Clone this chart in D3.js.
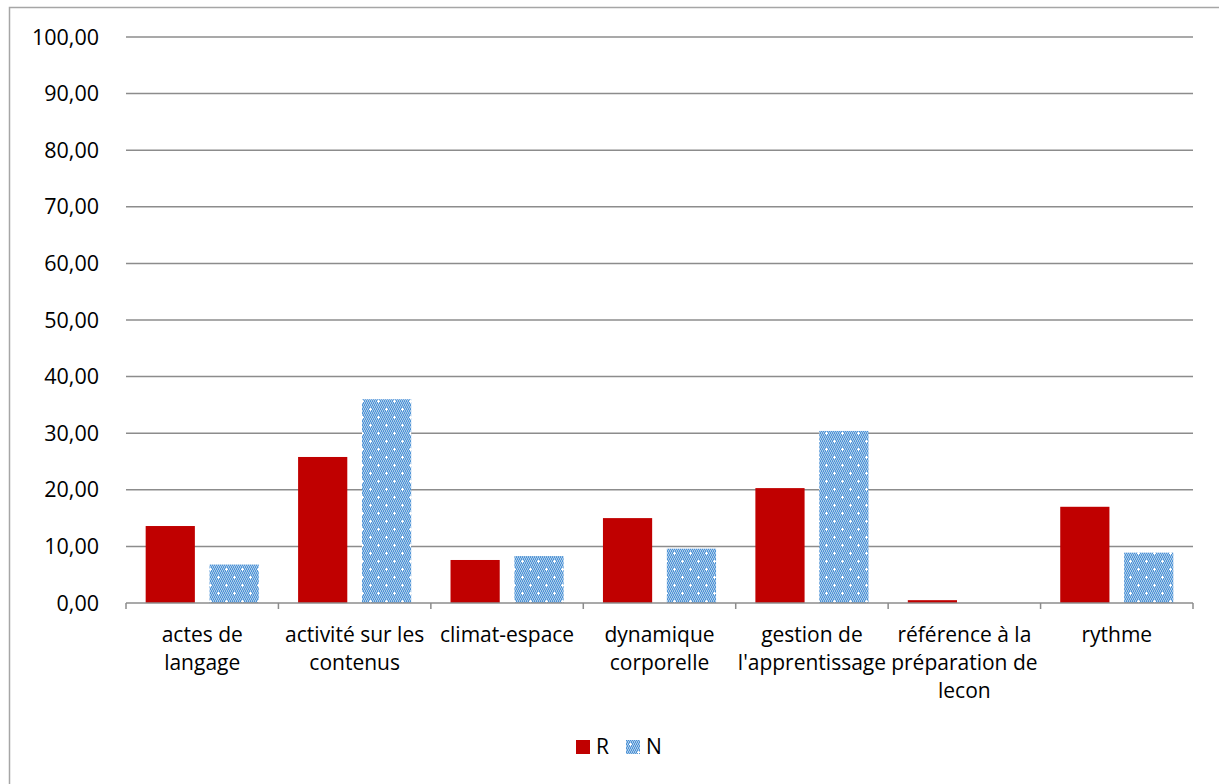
<!DOCTYPE html>
<html>
<head>
<meta charset="utf-8">
<script src="https://cdn.jsdelivr.net/npm/d3@7"></script>
<style>
body { margin:0; background:#fff; }
text { font-family: "Open Sans", "Noto Sans", sans-serif; fill:#000; }
</style>
</head>
<body>
<svg class="chart"></svg>
<script>
var categories = [
  ["actes de", "langage"],
  ["activité sur les", "contenus"],
  ["climat-espace"],
  ["dynamique", "corporelle"],
  ["gestion de", "l'apprentissage"],
  ["référence à la", "préparation de", "lecon"],
  ["rythme"]
];
var seriesNames = ["R", "N"];
var valuesR = [13.6, 25.8, 7.6, 15.0, 20.3, 0.5, 17.0];
var valuesN = [6.8, 36.0, 8.3, 9.6, 30.4, 0, 8.9];
var yTicks = [0, 10, 20, 30, 40, 50, 60, 70, 80, 90, 100];

var drawGraph = function(w, h)
{
  var svg = d3.select(".chart")
              .attr("width", w)
              .attr("height", h);

  // dotted pattern for the N series
  var defs = svg.append("defs");
  var pat = defs.append("pattern")
                .attr("id", "dots")
                .attr("patternUnits", "userSpaceOnUse")
                .attr("width", 16)
                .attr("height", 16);
  pat.append("rect").attr("width", 16).attr("height", 16).attr("fill", "#a9cbea");
  for (var px = 0; px < 16; px += 2) {
    for (var py = 0; py < 16; py += 2) {
      pat.append("rect").attr("x", px + (py % 4 === 0 ? 0 : 1)).attr("y", py)
         .attr("width", 1).attr("height", 1).attr("fill", "#4a90d9");
      pat.append("rect").attr("x", px + (py % 4 === 0 ? 1 : 0)).attr("y", py + 1)
         .attr("width", 1).attr("height", 1).attr("fill", "#5b9bd5");
    }
  }
  [[4,4],[12,12]].forEach(function(p) {
    pat.append("rect").attr("x", p[0] - 1).attr("y", p[1]).attr("width", 3).attr("height", 1).attr("fill", "#ffffff");
    pat.append("rect").attr("x", p[0]).attr("y", p[1] - 1).attr("width", 1).attr("height", 3).attr("fill", "#ffffff");
  });

  // outer frame
  svg.append("rect")
     .attr("x", 9.5).attr("y", 7.5)
     .attr("width", w + 20).attr("height", h + 20)
     .attr("fill", "none")
     .attr("stroke", "#a6a6a6")
     .attr("stroke-width", 1.5);

  var margins = { top: 37, left: 126, right: 26, bottom: 181 };
  var width = w - margins.left - margins.right;
  var height = h - margins.top - margins.bottom;

  var xScale = d3.scaleBand()
                 .domain(d3.range(categories.length))
                 .range([0, width])
                 .paddingInner(0.258)
                 .paddingOuter(0.129);
  var xInner = d3.scaleBand()
                 .domain(seriesNames)
                 .range([0, xScale.bandwidth()])
                 .paddingInner(0.23);
  var yScale = d3.scaleLinear()
                 .domain([0, 100])
                 .range([height, 0]);

  var plotLand = svg.append("g")
                    .attr("transform", "translate(" + margins.left + "," + margins.top + ")");

  // gridlines
  plotLand.selectAll("line.grid")
          .data(yTicks.slice(1))
          .enter()
          .append("line")
          .classed("grid", true)
          .attr("x1", 0).attr("x2", width)
          .attr("y1", function(d) { return yScale(d); })
          .attr("y2", function(d) { return yScale(d); })
          .attr("stroke", "#8c8c8c")
          .attr("stroke-width", 1.5);

  // y labels
  plotLand.selectAll("text.ylab")
          .data(yTicks)
          .enter()
          .append("text")
          .classed("ylab", true)
          .attr("x", -27)
          .attr("y", function(d) { return yScale(d); })
          .attr("dy", "0.35em")
          .attr("text-anchor", "end")
          .style("font-size", "21.5px")
          .text(function(d) { return d3.format(".2f")(d).replace(".", ","); });

  var series = [
    { name: "R", values: valuesR, fill: "#c00000" },
    { name: "N", values: valuesN, fill: "url(#dots)" }
  ];

  series.forEach(function(s) {
    plotLand.selectAll("rect.bar" + s.name)
            .data(s.values)
            .enter()
            .append("rect")
            .classed("bar" + s.name, true)
            .attr("x", function(d, i) { return xScale(i) + xInner(s.name); })
            .attr("width", xInner.bandwidth())
            .attr("y", function(d) { return yScale(d); })
            .attr("height", function(d) { return height - yScale(d); })
            .attr("fill", s.fill);
  });

  // x axis line and ticks
  var step = xScale.step();
  plotLand.append("line")
          .attr("x1", 0).attr("x2", width)
          .attr("y1", height).attr("y2", height)
          .attr("stroke", "#8c8c8c").attr("stroke-width", 1.5);
  plotLand.selectAll("line.xtick")
          .data(d3.range(categories.length + 1))
          .enter()
          .append("line")
          .classed("xtick", true)
          .attr("x1", function(d) { return d * step; })
          .attr("x2", function(d) { return d * step; })
          .attr("y1", height).attr("y2", height + 6)
          .attr("stroke", "#8c8c8c").attr("stroke-width", 1.5);

  // category labels
  var labels = plotLand.selectAll("text.xlab")
          .data(categories)
          .enter()
          .append("text")
          .classed("xlab", true)
          .attr("text-anchor", "middle")
          .style("font-size", "21px")
          .attr("transform", function(d, i) { return "translate(" + (i * step + step / 2) + "," + (height + 39) + ")"; });
  labels.selectAll("tspan")
        .data(function(d) { return d; })
        .enter()
        .append("tspan")
        .attr("x", 0)
        .attr("y", function(d, i) { return i * 28; })
        .text(function(d) { return d; });

  // legend
  var legend = svg.append("g")
                  .attr("transform", "translate(576,740)");
  var legendItems = legend.selectAll("g")
                          .data(series)
                          .enter()
                          .append("g")
                          .attr("transform", function(d, i) { return "translate(" + (i * 50) + ",0)"; });
  legendItems.append("rect")
             .attr("width", 14).attr("height", 14)
             .attr("fill", function(d) { return d.fill; });
  legendItems.append("text")
             .attr("x", 20).attr("y", 7)
             .attr("dy", "0.35em")
             .style("font-size", "21px")
             .text(function(d) { return d.name; });
}

drawGraph(1219, 784);
</script>
</body>
</html>
